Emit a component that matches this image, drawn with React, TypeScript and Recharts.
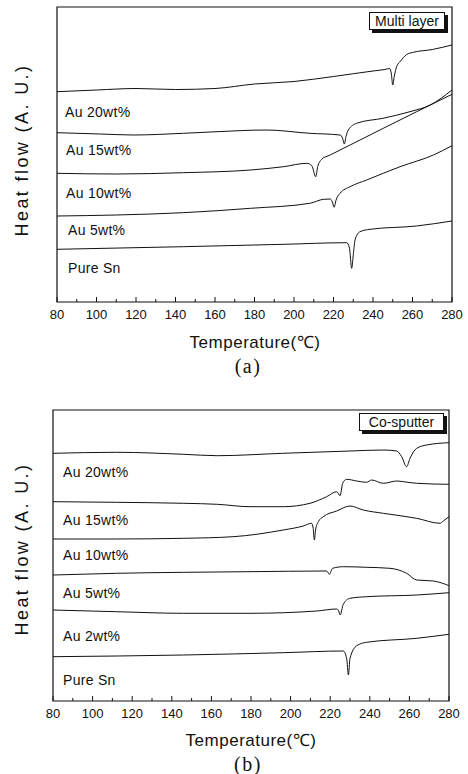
import React from 'react'
import { LineChart, Line, XAxis, YAxis, ReferenceArea } from 'recharts'

type Pt = [number, number]

// temperature ticks (every 10, labelled every 20)
const tempTicks = [80, 90, 100, 110, 120, 130, 140, 150, 160, 170, 180, 190, 200, 210, 220, 230, 240, 250, 260, 270, 280]

// (a) Multi layer — [temperature, heat flow (A.U.)]
const mlAu20: Pt[] = [[80, 210.3], [100, 212], [120, 213.5], [140, 212.5], [160, 213.5], [180, 218], [200, 220.5], [220, 225.5], [240, 231], [246, 232.5], [248.5, 233.5], [249.3, 228], [250, 217], [250.8, 226], [252, 235.5], [254, 241], [257, 247.5], [260, 249.5], [270, 252.5], [280, 257]]
const mlAu15: Pt[] = [[80, 169.3], [102, 168], [118.6, 167], [144, 168.7], [161, 170.3], [186, 172], [208, 168.7], [223.3, 167], [224.6, 163.7], [225.5, 158], [226.3, 165.3], [227.5, 172], [231.7, 178.7], [245, 183.7], [258.7, 190.3], [269, 197], [280, 212]]
const mlAu10: Pt[] = [[80, 128.7], [110, 128], [144, 129.3], [178, 132], [194.7, 135.3], [206.5, 138.7], [209, 136.3], [211, 125.3], [212, 135.3], [214, 142.7], [218.3, 147], [228.4, 157], [245.2, 173.7], [262.1, 190.3], [280, 207.7]]
const mlAu5: Pt[] = [[80, 86], [110, 87], [144, 89.3], [178, 93.7], [208, 98.7], [215, 102.7], [218.3, 103], [219.4, 100.3], [220.3, 94.7], [221.3, 102], [223.3, 108.7], [228.4, 115.3], [236.8, 122], [253.7, 135.3], [270.6, 147], [280, 156.3]]
const mlSn: Pt[] = [[80, 52.7], [144, 55.3], [195, 57.7], [226.7, 59.3], [228.1, 53.7], [229.2, 33.7], [230.1, 48.7], [230.9, 62], [233.4, 70.3], [238.5, 72.7], [262, 76], [280, 81]]
const mlNames = ['Au 20wt%', 'Au 15wt%', 'Au 10wt%', 'Au 5wt%', 'Pure Sn']

// (b) Co-sputter
const csAu20: Pt[] = [[80, 247.7], [112, 248.7], [146, 246.7], [163, 245.3], [196, 247.7], [230, 250], [247, 251], [253.6, 250], [256.1, 244.3], [258.6, 234.3], [260.3, 242.7], [263.7, 252.7], [268.7, 256], [280, 258.3]]
const csAu15: Pt[] = [[80, 199.3], [112, 198.7], [146, 197.7], [163, 196.7], [179.5, 194.3], [196.3, 194.3], [209.8, 197.7], [218.2, 204.3], [223.3, 209.3], [225, 205.3], [226.3, 217.7], [228.3, 221.7], [233.4, 220], [238.4, 218.7], [240.9, 221], [246.8, 217.7], [253.6, 220], [256.9, 219.3], [263.7, 217.7], [280, 216.7]]
const csAu10: Pt[] = [[80, 162], [112, 162], [146, 162.7], [171, 164.3], [196.3, 171], [206.4, 175], [210.6, 177.7], [211.4, 172.7], [212, 161], [212.6, 171], [214, 179.3], [216.5, 184.3], [223.3, 190], [230, 195], [236.7, 191], [246.8, 187.7], [263.7, 182.7], [275.5, 177.7], [277.1, 180], [280, 184.3]]
const csAu5: Pt[] = [[80, 126], [112, 127.7], [146, 128.7], [179.5, 129.3], [218.2, 130], [219.6, 126.7], [221.2, 132.7], [226.6, 134.3], [238.4, 133.7], [250.2, 132.7], [258.6, 127.7], [263.7, 121], [272.1, 120], [280, 115.3]]
const csAu2: Pt[] = [[80, 91], [112, 89.3], [146, 87.7], [179.5, 87.7], [213.2, 90], [223.3, 92], [224.3, 90], [225, 86], [226.6, 96.7], [230, 102.7], [238.4, 104.3], [263.7, 106], [280, 108.3]]
const csSn: Pt[] = [[80, 44.3], [146, 46], [196.3, 48.3], [226.6, 50], [228.3, 42.7], [229.2, 26], [230, 42.7], [233.4, 55.3], [238.4, 58.7], [263.7, 62.7], [280, 66.7]]
const csNames = ['Au 20wt%', 'Au 15wt%', 'Au 10wt%', 'Au 5wt%', 'Au 2wt%', 'Pure Sn']

const sans = '"Liberation Sans", Arial, sans-serif'
const toRows = (pts: Pt[]) => pts.map(([t, v]) => ({ t, v }))

function TempTick(props: any) {
  const { x, y, payload } = props
  const major = payload.value % 20 === 0
  return (
    <g>
      <line x1={x} x2={x} y1={y} y2={y - (major ? 5 : 3)} stroke="#111" strokeWidth={1} />
      {major && (
        <text x={x} y={y + 8} dy="0.71em" textAnchor="middle" fontSize={13} fontFamily={sans} fill="#111">
          {payload.value}
        </text>
      )}
    </g>
  )
}

interface PanelProps {
  series: Pt[][]
  yMax: number
  height: number
  margin: { top: number; right: number; bottom: number; left: number }
}

function Panel({ series, yMax, height, margin }: PanelProps) {
  return (
    <LineChart width={468} height={height} margin={margin}>
      <XAxis
        dataKey="t"
        type="number"
        domain={[80, 280]}
        ticks={tempTicks}
        interval={0}
        height={30}
        tickSize={0}
        tickMargin={0}
        axisLine={false}
        tickLine={false}
        tick={<TempTick />}
        allowDataOverflow
      />
      <YAxis type="number" domain={[0, yMax]} hide allowDataOverflow />
      <ReferenceArea x1={80} x2={280} y1={0} y2={yMax} fill="none" fillOpacity={0} stroke="#111" strokeWidth={1.2} />
      {series.map((pts, i) => (
        <Line
          key={i}
          data={toRows(pts)}
          dataKey="v"
          type="monotone"
          stroke="#111"
          strokeWidth={1}
          dot={false}
          isAnimationActive={false}
        />
      ))}
    </LineChart>
  )
}

const abs = (extra: React.CSSProperties): React.CSSProperties => ({
  position: 'absolute',
  whiteSpace: 'nowrap',
  lineHeight: 1,
  color: '#111',
  fontFamily: sans,
  ...extra,
})

function CurveLabel({ text, x, y }: { text: string; x: number; y: number }) {
  return <div style={abs({ left: x, top: y, transform: 'translateY(-50%)', fontSize: 14, letterSpacing: 0.3 })}>{text}</div>
}

function TagBox({ text, x, y, w, h }: { text: string; x: number; y: number; w: number; h: number }) {
  return (
    <div
      style={abs({
        left: x,
        top: y,
        width: w,
        height: h,
        border: '1px solid #111',
        background: '#fff',
        boxShadow: '3px 3px 0 #111',
        fontSize: 14,
        display: 'flex',
        alignItems: 'center',
        justifyContent: 'center',
        boxSizing: 'border-box',
      })}
    >
      {text}
    </div>
  )
}

const mlLabelPos = [[65, 112], [66, 150], [66, 193], [68, 230], [68, 268]]
const csLabelPos = [[63, 472], [63, 520], [63, 555], [63, 593], [63, 636], [63, 680]]

export default function App() {
  return (
    <div style={{ position: 'relative', width: 468, height: 774, background: '#fff', overflow: 'hidden' }}>
      <style>{'body{margin:0}'}</style>
      <div style={{ position: 'absolute', left: 0, top: 0 }}>
        <Panel
          series={[mlAu20, mlAu15, mlAu10, mlAu5, mlSn]}
          yMax={295}
          height={390}
          margin={{ top: 7, right: 16, bottom: 58, left: 57 }}
        />
      </div>
      <div style={{ position: 'absolute', left: 0, top: 390 }}>
        <Panel
          series={[csAu20, csAu15, csAu10, csAu5, csAu2, csSn]}
          yMax={291}
          height={384}
          margin={{ top: 20, right: 19, bottom: 43, left: 53 }}
        />
      </div>

      {mlNames.map((n, i) => (
        <CurveLabel key={'ml' + i} text={n} x={mlLabelPos[i][0]} y={mlLabelPos[i][1]} />
      ))}
      {csNames.map((n, i) => (
        <CurveLabel key={'cs' + i} text={n} x={csLabelPos[i][0]} y={csLabelPos[i][1]} />
      ))}

      <TagBox text="Multi layer" x={369} y={12} w={76} h={18} />
      <TagBox text="Co-sputter" x={359} y={413} w={85} h={18} />

      <div style={abs({ left: 22, top: 150, transform: 'translate(-50%, -50%) rotate(-90deg)', fontSize: 18, letterSpacing: 2.4 })}>
        Heat flow (A. U.)
      </div>
      <div style={abs({ left: 22, top: 549, transform: 'translate(-50%, -50%) rotate(-90deg)', fontSize: 18, letterSpacing: 2.4 })}>
        Heat flow (A. U.)
      </div>

      <div style={abs({ left: 255, top: 342, transform: 'translate(-50%, -50%)', fontSize: 17, letterSpacing: 0.5 })}>
        Temperature(℃)
      </div>
      <div style={abs({ left: 251, top: 740, transform: 'translate(-50%, -50%)', fontSize: 17, letterSpacing: 0.5 })}>
        Temperature(℃)
      </div>

      <div style={abs({ left: 248, top: 366, transform: 'translate(-50%, -50%)', fontSize: 20, fontFamily: '"Liberation Serif", "Times New Roman", serif', letterSpacing: 1.5 })}>
        (a)
      </div>
      <div style={abs({ left: 248, top: 764, transform: 'translate(-50%, -50%)', fontSize: 20, fontFamily: '"Liberation Serif", "Times New Roman", serif', letterSpacing: 1.5 })}>
        (b)
      </div>
    </div>
  )
}
